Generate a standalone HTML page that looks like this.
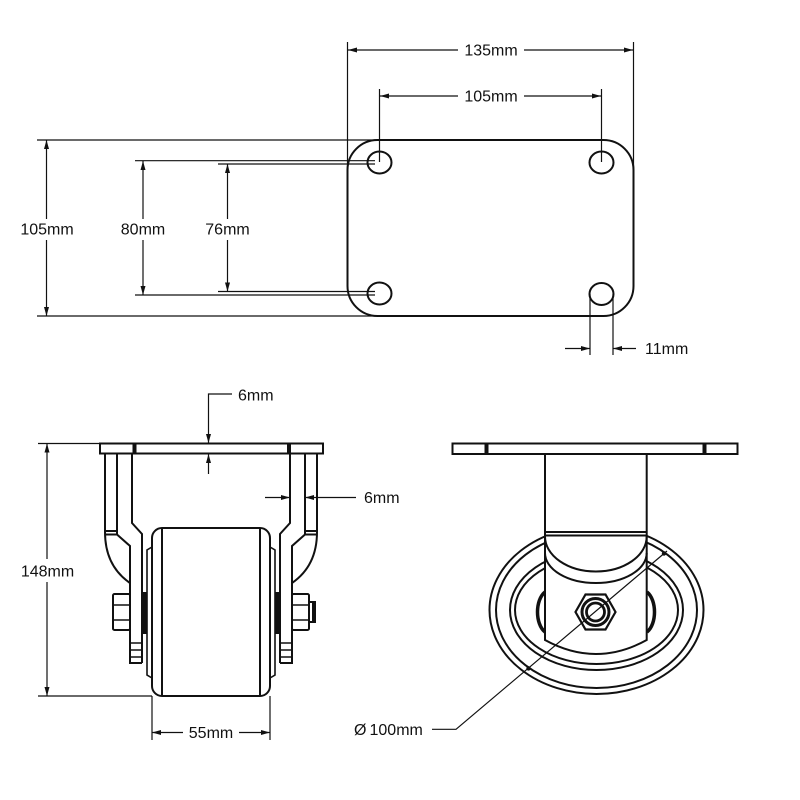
<!DOCTYPE html>
<html><head><meta charset="utf-8"><style>
html,body{margin:0;padding:0;background:#fff;}
svg{display:block;}
text{font-family:"Liberation Sans","DejaVu Sans",sans-serif;font-size:16px;fill:#111;}
</style></head><body>
<svg width="800" height="800" viewBox="0 0 800 800" xmlns="http://www.w3.org/2000/svg">
<rect width="800" height="800" fill="#fff"/>

<!-- ===== TOP VIEW ===== -->
<g fill="#fff" stroke="#111" stroke-width="2">
  <rect x="347.5" y="140" width="286" height="176" rx="30"/>
  <ellipse cx="379.5" cy="162.5" rx="12" ry="11"/>
  <ellipse cx="601.5" cy="162.5" rx="12" ry="11"/>
  <ellipse cx="379.5" cy="293.5" rx="12" ry="11"/>
  <ellipse cx="601.5" cy="294" rx="12" ry="11"/>
</g>
<g fill="none" stroke="#111" stroke-width="1.2">
  <!-- 135mm -->
  <line x1="347.5" y1="42" x2="347.5" y2="170"/>
  <line x1="633.5" y1="42" x2="633.5" y2="170"/>
  <line x1="348" y1="50" x2="458" y2="50"/>
  <line x1="524" y1="50" x2="633" y2="50"/>
  <!-- 105mm top -->
  <line x1="379.5" y1="89" x2="379.5" y2="162"/>
  <line x1="601.5" y1="89" x2="601.5" y2="162"/>
  <line x1="380" y1="96" x2="458" y2="96"/>
  <line x1="524" y1="96" x2="601" y2="96"/>
  <!-- left 105mm -->
  <line x1="37" y1="140" x2="378" y2="140"/>
  <line x1="37" y1="316" x2="378" y2="316"/>
  <line x1="46.5" y1="140" x2="46.5" y2="219"/>
  <line x1="46.5" y1="240" x2="46.5" y2="316"/>
  <!-- 80mm -->
  <line x1="135" y1="160.7" x2="375" y2="160.7"/>
  <line x1="135" y1="295" x2="375" y2="295"/>
  <line x1="143" y1="161" x2="143" y2="219"/>
  <line x1="143" y1="240" x2="143" y2="295"/>
  <!-- 76mm -->
  <line x1="218" y1="164" x2="375" y2="164"/>
  <line x1="218" y1="291.5" x2="375" y2="291.5"/>
  <line x1="227.5" y1="164" x2="227.5" y2="219"/>
  <line x1="227.5" y1="240" x2="227.5" y2="291.5"/>
  <!-- 11mm -->
  <line x1="590" y1="294" x2="590" y2="355"/>
  <line x1="613" y1="294" x2="613" y2="355"/>
  <line x1="565" y1="348.5" x2="590" y2="348.5"/>
  <line x1="613" y1="348.5" x2="636" y2="348.5"/>
</g>

<!-- arrows -->
<g fill="#111" stroke="none">
  <polygon points="348,50 357,47.5 357,52.5"/>
  <polygon points="633,50 624,47.5 624,52.5"/>
  <polygon points="380,96 389,93.5 389,98.5"/>
  <polygon points="601,96 592,93.5 592,98.5"/>
  <polygon points="46.5,140 44,149 49,149"/>
  <polygon points="46.5,316 44,307 49,307"/>
  <polygon points="143,161 140.5,170 145.5,170"/>
  <polygon points="143,295 140.5,286 145.5,286"/>
  <polygon points="227.5,164 225,173 230,173"/>
  <polygon points="227.5,291.5 225,282.5 230,282.5"/>
  <polygon points="590,348.5 581,346 581,351"/>
  <polygon points="613,348.5 622,346 622,351"/>
  <!-- front -->
  <polygon points="47,443.5 44.5,452.5 49.5,452.5"/>
  <polygon points="47,696 44.5,687 49.5,687"/>
  <polygon points="208.5,443 206,434 211,434"/>
  <polygon points="208.5,454 206,463 211,463"/>
  <polygon points="290,497.5 281,495 281,500"/>
  <polygon points="305,497.5 314,495 314,500"/>
  <polygon points="152,732.5 161,730 161,735"/>
  <polygon points="270,732.5 261,730 261,735"/>
</g>

<!-- ===== FRONT VIEW ===== -->
<g fill="none" stroke="#111" stroke-width="1.2">
  <!-- 148mm -->
  <line x1="38" y1="443.5" x2="100" y2="443.5"/>
  <line x1="38" y1="696" x2="152" y2="696"/>
  <line x1="47" y1="443.5" x2="47" y2="559"/>
  <line x1="47" y1="582" x2="47" y2="696"/>
  <!-- 6mm top -->
  <polyline points="232,394 208.5,394 208.5,443"/>
  <line x1="208.5" y1="454" x2="208.5" y2="474"/>
  <!-- 6mm right -->
  <line x1="265" y1="497.5" x2="290" y2="497.5"/>
  <line x1="305" y1="497.5" x2="356" y2="497.5"/>
  <!-- 55mm -->
  <line x1="152" y1="696" x2="152" y2="740"/>
  <line x1="270" y1="696" x2="270" y2="740"/>
  <line x1="152" y1="732.5" x2="183" y2="732.5"/>
  <line x1="239" y1="732.5" x2="270" y2="732.5"/>
</g>

<g fill="none" stroke="#111" stroke-width="2">
  <rect x="100" y="443.5" width="223" height="10"/>
  <line x1="133.5" y1="443.5" x2="133.5" y2="453.5"/>
  <line x1="135.5" y1="443.5" x2="135.5" y2="453.5"/>
  <line x1="288" y1="443.5" x2="288" y2="453.5"/>
  <line x1="290" y1="443.5" x2="290" y2="453.5"/>
</g>

<g fill="none" stroke="#111" stroke-width="2">
  <path d="M105,454 V532 C105,556 114,572 130,583"/>
  <path d="M105,531 H117"/>
  <path d="M105,534.5 H117 L130,546 V663 H142"/>
  <path d="M117,454 V534.5"/>
  <path d="M132,454 V523 L142,534 V663"/>
  <path d="M130,643 H142 M130,650 H142 M130,657 H142" stroke-width="1.6"/>
  <path d="M152,547 L147,550 V675 L152,678" stroke-width="1.6"/>
  <rect x="142" y="592" width="5" height="42" fill="#111" stroke="none"/>
  <rect x="113" y="594" width="17" height="36" rx="1.5"/>
  <path d="M113,605 H130 M113,620 H130" stroke-width="1.6"/>
</g>
<g fill="none" stroke="#111" stroke-width="2" transform="translate(422,0) scale(-1,1)">
  <path d="M105,454 V532 C105,556 114,572 130,583"/>
  <path d="M105,531 H117"/>
  <path d="M105,534.5 H117 L130,546 V663 H142"/>
  <path d="M117,454 V534.5"/>
  <path d="M132,454 V523 L142,534 V663"/>
  <path d="M130,643 H142 M130,650 H142 M130,657 H142" stroke-width="1.6"/>
  <path d="M152,547 L147,550 V675 L152,678" stroke-width="1.6"/>
  <rect x="142" y="592" width="5" height="42" fill="#111" stroke="none"/>
  <rect x="113" y="594" width="17" height="36" rx="1.5"/>
  <path d="M113,605 H130 M113,620 H130" stroke-width="1.6"/>
</g>
<g fill="none" stroke="#111" stroke-width="2">
  <rect x="309" y="602" width="6" height="20"/>
  <rect x="312" y="602" width="3" height="20" fill="#111" stroke="none"/>
  <rect x="152" y="528" width="118" height="168" rx="10" fill="#fff"/>
  <line x1="162" y1="529" x2="162" y2="695"/>
  <line x1="260" y1="529" x2="260" y2="695"/>
</g>

<!-- ===== SIDE VIEW ===== -->
<g fill="none" stroke="#111" stroke-width="2">
  <rect x="452.5" y="443.5" width="285" height="10.5"/>
  <line x1="485.5" y1="443.5" x2="485.5" y2="454"/>
  <line x1="487.5" y1="443.5" x2="487.5" y2="454"/>
  <line x1="703.5" y1="443.5" x2="703.5" y2="454"/>
  <line x1="705.5" y1="443.5" x2="705.5" y2="454"/>
  <ellipse cx="596.5" cy="610" rx="107" ry="84"/>
  <ellipse cx="596.5" cy="610" rx="100.5" ry="78"/>
  <ellipse cx="596.5" cy="610" rx="86.5" ry="60"/>
  <ellipse cx="596.5" cy="610" rx="81.5" ry="54"/>
  <path d="M545,592 C535,600 535,624 545,632" stroke-width="3.5"/>
  <path d="M647,592 C657,600 657,624 647,632" stroke-width="3.5"/>
  <path d="M545,454 V640 Q596,668 646.7,640 V454 Z" fill="#fff"/>
  <line x1="545" y1="532" x2="646.7" y2="532"/>
  <line x1="545" y1="535.5" x2="646.7" y2="535.5"/>
  <path d="M545,536.5 A50.85,35 0 0 0 646.7,536.5"/>
  <path d="M545,553 A50.85,30 0 0 0 646.7,553"/>
  <polygon points="615.5,612 605.5,594.5 585.5,594.5 575.5,612 585.5,629.5 605.5,629.5" stroke-width="2.2"/>
  <circle cx="595.5" cy="612" r="13.5" stroke-width="3"/>
  <circle cx="595.5" cy="612" r="9" stroke-width="2.8"/>
</g>
<g fill="none" stroke="#111" stroke-width="1.2">
  <polyline points="432,729.3 456,729.3 667,551"/>
</g>
<g fill="#111">
  <circle cx="528.5" cy="668.4" r="2.2"/>
  <circle cx="664" cy="553.5" r="2.2"/>
</g>

<!-- ===== TEXT ===== -->
<text x="491" y="55.7" text-anchor="middle">135mm</text>
<text x="491" y="101.5" text-anchor="middle">105mm</text>
<text x="47" y="234.7" text-anchor="middle">105mm</text>
<text x="143" y="234.7" text-anchor="middle">80mm</text>
<text x="227.5" y="234.7" text-anchor="middle">76mm</text>
<text x="645" y="354">11mm</text>
<text x="238" y="400.5">6mm</text>
<text x="364" y="503">6mm</text>
<text x="47.5" y="576.5" text-anchor="middle">148mm</text>
<text x="211" y="738" text-anchor="middle">55mm</text>
<text x="354" y="735">Ø<tspan x="369.5">100mm</tspan></text>
</svg>
</body></html>
